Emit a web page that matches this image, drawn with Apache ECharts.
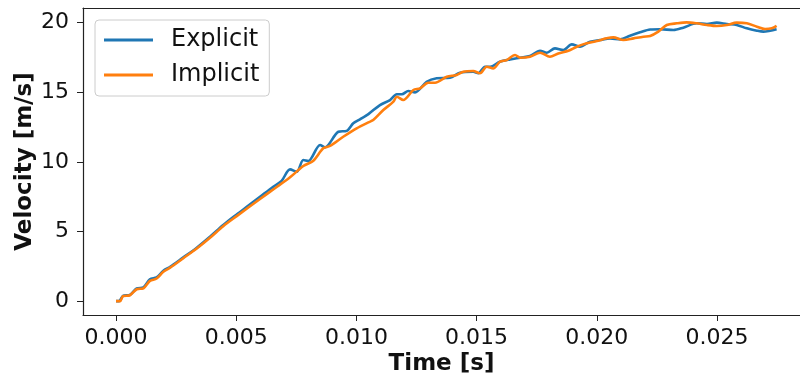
<!DOCTYPE html>
<html>
<head>
<meta charset="utf-8">
<script src="https://cdn.jsdelivr.net/npm/echarts@6/dist/echarts.min.js"></script>
<style>
  html, body { margin: 0; padding: 0; background: #fff; }
  #chart { width: 800px; height: 377px; }
</style>
</head>
<body>
<div id="chart"></div>
<script>
const seriesNames = ["Explicit", "Implicit"];

const explicitTime = [0, 0.000125, 0.00029, 0.00058, 0.00086, 0.00114, 0.00141, 0.00169, 0.00197, 0.00225,
  0.0028, 0.00336, 0.00391, 0.00446, 0.00502, 0.00544, 0.00599, 0.00654, 0.00689, 0.00724,
  0.00752, 0.00779, 0.008, 0.00849, 0.00869, 0.00925, 0.0096, 0.00987, 0.01015, 0.0105,
  0.01098, 0.0114, 0.01168, 0.01189, 0.01216, 0.01244, 0.01292, 0.01334, 0.01389, 0.01431,
  0.01486, 0.01507, 0.01535, 0.01556, 0.01597, 0.01639, 0.01681, 0.01722, 0.01764, 0.01792,
  0.01826, 0.01861, 0.01896, 0.0193, 0.01972, 0.02013, 0.02055, 0.02097, 0.02138, 0.0218,
  0.02222, 0.02263, 0.02319, 0.0236, 0.02416, 0.02458, 0.02499, 0.02541, 0.02582, 0.02624,
  0.02666, 0.02693, 0.02721, 0.02748];
const explicitVel = [0, 0, 0.38, 0.45, 0.91, 0.98, 1.56, 1.7, 2.18, 2.46,
  3.14, 3.83, 4.62, 5.46, 6.22, 6.77, 7.49, 8.21, 8.64, 9.46,
  9.29, 10.13, 10.06, 11.21, 11.04, 12.16, 12.23, 12.77, 13.05, 13.43,
  14.08, 14.44, 14.85, 14.85, 15.09, 14.99, 15.75, 16.0, 16.04, 16.4,
  16.47, 16.36, 16.83, 16.83, 17.19, 17.36, 17.48, 17.6, 17.98, 17.84,
  18.15, 18.03, 18.44, 18.27, 18.63, 18.75, 18.87, 18.8, 19.06, 19.3,
  19.5, 19.52, 19.47, 19.64, 19.95, 19.9, 20.0, 19.9, 19.83, 19.59,
  19.42, 19.35, 19.42, 19.52];

const implicitTime = [0, 0.00017, 0.00029, 0.00058, 0.00086, 0.00114, 0.00141, 0.00169, 0.00197, 0.00225,
  0.0028, 0.00336, 0.00391, 0.00446, 0.00502, 0.00599, 0.00661, 0.00724, 0.00779, 0.00821,
  0.00862, 0.0089, 0.00945, 0.01001, 0.0105, 0.0107, 0.01112, 0.01154, 0.01168, 0.01195,
  0.01237, 0.01265, 0.01299, 0.01327, 0.01376, 0.01417, 0.01445, 0.01486, 0.01514, 0.01542,
  0.01569, 0.01597, 0.01625, 0.0166, 0.01681, 0.01722, 0.01764, 0.01805, 0.0184, 0.01882,
  0.01917, 0.01958, 0.02, 0.02041, 0.02069, 0.02111, 0.02153, 0.02194, 0.02222, 0.02256,
  0.02291, 0.02333, 0.02374, 0.02416, 0.02458, 0.02499, 0.02541, 0.02582, 0.02624, 0.02666,
  0.027, 0.02728, 0.02748];
const implicitVel = [0, 0, 0.35, 0.42, 0.85, 0.92, 1.45, 1.62, 2.1, 2.4,
  3.08, 3.78, 4.55, 5.38, 6.1, 7.33, 8.1, 8.89, 9.7, 10.08,
  10.97, 11.14, 11.8, 12.41, 12.84, 13.0, 13.72, 14.32, 14.68, 14.44,
  15.16, 15.28, 15.68, 15.68, 16.11, 16.24, 16.47, 16.52, 16.36, 16.83,
  16.71, 17.19, 17.31, 17.67, 17.48, 17.55, 17.84, 17.55, 17.79, 17.98,
  18.27, 18.51, 18.68, 18.87, 18.94, 18.75, 18.87, 18.99, 19.04, 19.35,
  19.83, 19.95, 20.02, 19.95, 19.83, 19.76, 19.83, 20.0, 19.95, 19.71,
  19.54, 19.59, 19.76];

const xTicks = [0, 0.005, 0.01, 0.015, 0.02, 0.025];
const yTicks = [0, 5, 10, 15, 20];

const font = "DejaVu Sans";
const ink = "#111";
const spine = { show: true, onZero: false, lineStyle: { color: "#222", width: 1.2 } };
const chart = echarts.init(document.getElementById("chart"));

const xRange = { min: -0.001373, max: 0.028453 };

const option = {
  animation: false,
  textStyle: { fontFamily: font },
  grid: { left: 83, top: 8, right: 0, bottom: 62, outerBoundsMode: "none", containLabel: false },
  legend: {
    data: seriesNames,
    orient: "vertical",
    left: 95,
    top: 20,
    padding: [7, 10, 8, 9],
    itemGap: 9,
    itemWidth: 49,
    itemHeight: 3,
    icon: "rect",
    borderColor: "#ccc",
    borderWidth: 1,
    borderRadius: 4,
    backgroundColor: "#fff",
    textStyle: {
      fontFamily: font,
      fontSize: 24,
      lineHeight: 26,
      color: ink,
      padding: [0, 0, 0, 13],
    },
  },
  xAxis: [
    {
      type: "value",
      ...xRange,
      name: "Time [s]",
      nameLocation: "middle",
      nameGap: 38,
      nameMoveOverlap: false,
      nameTextStyle: { fontFamily: font, fontSize: 23, fontWeight: "bold", color: ink },
      splitLine: { show: false },
      axisLine: spine,
      axisTick: { show: true, length: 6, customValues: xTicks, lineStyle: { color: "#222" } },
      axisLabel: {
        customValues: xTicks,
        margin: 12,
        fontSize: 22,
        color: ink,
        formatter: (v) => v.toFixed(3),
      },
    },
    {
      // top spine only
      type: "value",
      position: "top",
      ...xRange,
      axisLine: spine,
      axisTick: { show: false },
      axisLabel: { show: false },
      splitLine: { show: false },
    },
  ],
  yAxis: {
    type: "value",
    min: -1.0,
    max: 21.05,
    name: "Velocity [m/s]",
    nameLocation: "middle",
    nameGap: 46,
    nameMoveOverlap: false,
    nameRotate: 90,
    nameTextStyle: { fontFamily: font, fontSize: 23, fontWeight: "bold", color: ink },
    splitLine: { show: false },
    axisLine: spine,
    axisTick: { show: true, length: 6, customValues: yTicks, lineStyle: { color: "#222" } },
    axisLabel: { customValues: yTicks, margin: 14, fontSize: 22, color: ink },
  },
  series: [
    {
      name: seriesNames[0],
      type: "line",
      showSymbol: false,
      symbol: "none",
      smooth: 0.3,
      color: "#1f77b4",
      lineStyle: { width: 2.6 },
      data: explicitTime.map((t, i) => [t, explicitVel[i]]),
    },
    {
      name: seriesNames[1],
      type: "line",
      showSymbol: false,
      symbol: "none",
      smooth: 0.3,
      color: "#ff7f0e",
      lineStyle: { width: 2.6 },
      data: implicitTime.map((t, i) => [t, implicitVel[i]]),
    },
  ],
};

chart.setOption(option);
window.addEventListener("resize", () => chart.resize());
</script>
</body>
</html>
